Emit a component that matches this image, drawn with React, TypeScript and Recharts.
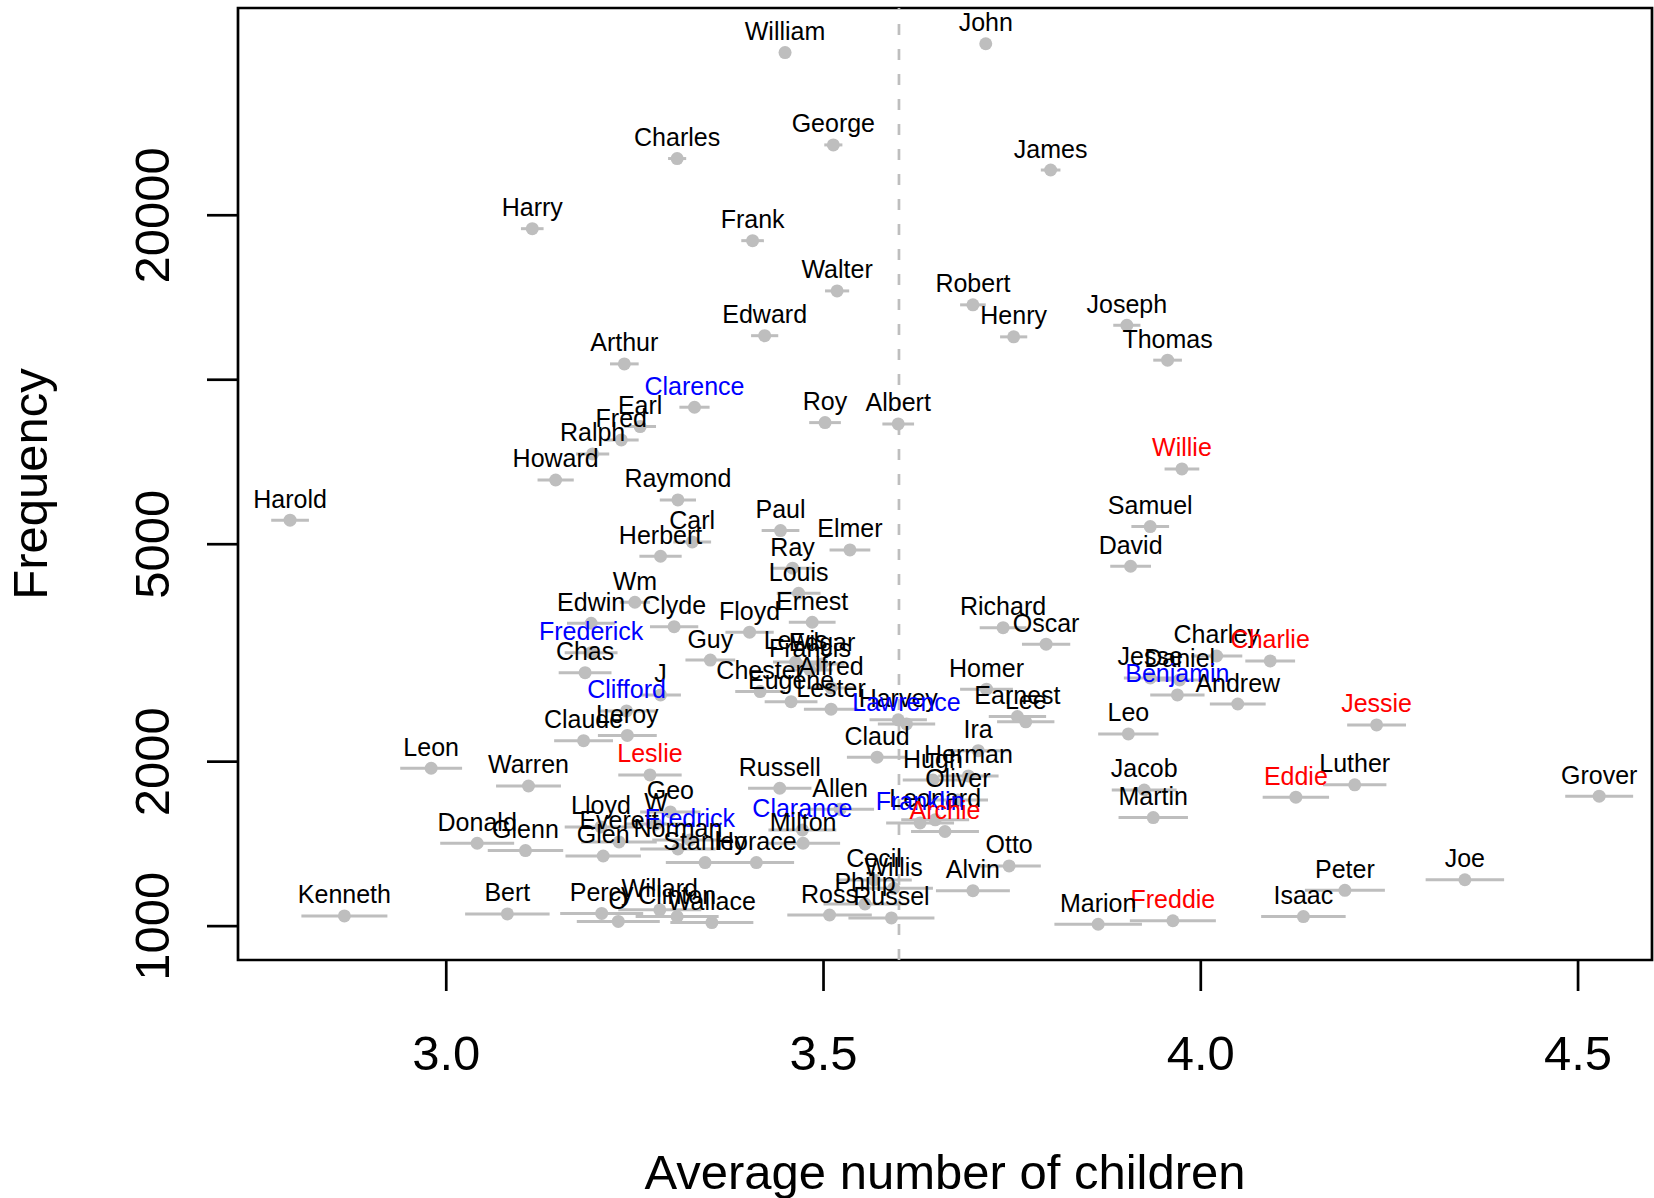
import React from "react";
import {
  ErrorBar,
  ReferenceArea,
  ReferenceLine,
  Scatter,
  ScatterChart,
  XAxis,
  YAxis,
} from "recharts";

// first names
const names = [
  "William", "John", "Charles", "George", "James", "Harry", "Frank", "Walter", "Robert", "Henry",
  "Edward", "Joseph", "Thomas", "Arthur", "Clarence", "Earl", "Fred", "Ralph", "Howard", "Roy",
  "Albert", "Willie", "Harold", "Raymond", "Samuel", "Paul", "Carl", "Elmer", "Herbert", "David",
  "Ray", "Louis", "Wm", "Ernest", "Edwin", "Clyde", "Richard", "Floyd", "Oscar", "Frederick",
  "Charley", "Guy", "Charlie", "Lewis", "Edgar", "Francis", "Chas", "Jesse", "Daniel", "Alfred",
  "Homer", "Chester", "J", "Benjamin", "Eugene", "Andrew", "Lester", "Clifford", "Earnest", "Harvey",
  "Lee", "Lawrence", "Jessie", "Leo", "Leroy", "Claude", "Ira", "Claud", "Leon", "Leslie",
  "Herman", "Hugh", "Luther", "Warren", "Russell", "Jacob", "Grover", "Eddie", "Oliver", "Allen",
  "Geo", "Martin", "Leonard", "Franklin", "W", "Lloyd", "Clarance", "Archie", "Everett", "Fredrick",
  "Donald", "Milton", "Norman", "Glenn", "Glen", "Stanley", "Horace", "Otto", "Joe", "Cecil",
  "Willis", "Peter", "Alvin", "Philip", "Willard", "Percy", "Bert", "Ross", "Kenneth", "Isaac",
  "Clinton", "Russel", "Freddie", "O", "Wallace", "Marion",
];

// average number of children per name
const avgChildren = [
  3.449, 3.715, 3.306, 3.513, 3.801, 3.114, 3.406, 3.518, 3.698, 3.752,
  3.422, 3.902, 3.956, 3.236, 3.329, 3.257, 3.232, 3.194, 3.145, 3.502,
  3.599, 3.975, 2.793, 3.307, 3.933, 3.443, 3.326, 3.535, 3.284, 3.907,
  3.459, 3.467, 3.25, 3.485, 3.192, 3.302, 3.738, 3.402, 3.795, 3.192,
  4.021, 3.35, 4.092, 3.463, 3.498, 3.482, 3.184, 3.933, 3.972, 3.51,
  3.716, 3.416, 3.284, 3.969, 3.457, 4.049, 3.51, 3.239, 3.757, 3.599,
  3.768, 3.61, 4.233, 3.904, 3.24, 3.182, 3.705, 3.571, 2.98, 3.27,
  3.692, 3.645, 4.204, 3.109, 3.442, 3.925, 4.528, 4.126, 3.678, 3.522,
  3.297, 3.937, 3.648, 3.628, 3.278, 3.205, 3.472, 3.661, 3.229, 3.323,
  3.041, 3.473, 3.307, 3.105, 3.208, 3.343, 3.411, 3.746, 4.35, 3.567,
  3.593, 4.191, 3.698, 3.555, 3.283, 3.206, 3.081, 3.508, 2.865, 4.136,
  3.306, 3.59, 3.963, 3.228, 3.352, 3.864,
];

// how often the name occurs
const frequency = [
  39700, 41200, 25400, 26900, 24200, 18900, 17970, 14540, 13710, 11980,
  12040, 12580, 10860, 10690, 8906, 8208, 7760, 7314, 6554, 8347,
  8301, 6867, 5533, 6026, 5385, 5295, 5048, 4882, 4753, 4557,
  4519, 4067, 3915, 3599, 3584, 3533, 3518, 3451, 3281, 3166,
  3122, 3069, 3057, 3044, 3019, 2944, 2910, 2846, 2822, 2729,
  2714, 2687, 2649, 2649, 2575, 2550, 2495, 2477, 2418, 2385,
  2365, 2345, 2335, 2248, 2234, 2185, 2095, 2038, 1945, 1891,
  1883, 1851, 1814, 1805, 1788, 1775, 1729, 1722, 1702, 1637,
  1618, 1580, 1565, 1545, 1538, 1519, 1500, 1490, 1426, 1438,
  1418, 1418, 1384, 1375, 1344, 1307, 1307, 1289, 1216, 1215,
  1173, 1163, 1161, 1098, 1071, 1055, 1053, 1048, 1044, 1041,
  1041, 1035, 1023, 1020, 1015, 1008,
];

// half width of the interval around each average
const spread = [
  0.008, 0.006, 0.012, 0.012, 0.013, 0.015, 0.015, 0.016, 0.017, 0.018,
  0.018, 0.018, 0.019, 0.019, 0.02, 0.021, 0.023, 0.022, 0.024, 0.021,
  0.021, 0.023, 0.025, 0.024, 0.025, 0.025, 0.025, 0.027, 0.028, 0.027,
  0.029, 0.029, 0.02, 0.031, 0.032, 0.032, 0.031, 0.032, 0.032, 0.035,
  0.034, 0.033, 0.033, 0.03, 0.03, 0.03, 0.035, 0.035, 0.035, 0.032,
  0.035, 0.033, 0.027, 0.036, 0.035, 0.037, 0.036, 0.038, 0.038, 0.038,
  0.038, 0.038, 0.039, 0.04, 0.039, 0.039, 0.04, 0.04, 0.041, 0.042,
  0.04, 0.04, 0.042, 0.043, 0.042, 0.043, 0.045, 0.044, 0.04, 0.045,
  0.04, 0.046, 0.045, 0.045, 0.04, 0.048, 0.045, 0.045, 0.05, 0.05,
  0.049, 0.049, 0.05, 0.05, 0.05, 0.052, 0.05, 0.042, 0.052, 0.05,
  0.052, 0.053, 0.049, 0.055, 0.055, 0.055, 0.056, 0.056, 0.057, 0.056,
  0.055, 0.057, 0.057, 0.055, 0.055, 0.058,
];

const blueNames = ["Clarence", "Frederick", "Clifford", "Benjamin", "Lawrence", "Clarance", "Fredrick", "Franklin"];
const redNames = ["Willie", "Charlie", "Jessie", "Leslie", "Eddie", "Archie", "Freddie"];

const xTicks = [3, 3.5, 4, 4.5];
const yTicks = [1000, 2000, 5000, 10000, 20000];
const yLabelled = [1000, 2000, 5000, 20000];
const overallMean = 3.6;
const xDomain = [2.724, 4.598];
const yDomain = [867, 47900];

const FONT = '"Liberation Sans", Arial, Helvetica, sans-serif';
const GREY = "#bebebe";

const points = names.map((name, i) => ({
  name,
  x: avgChildren[i],
  y: frequency[i],
  err: spread[i],
  color: blueNames.includes(name) ? "#0000ff" : redNames.includes(name) ? "#ff0000" : "#000000",
}));

const NamedDot = (props: any) => {
  const { cx, cy, payload } = props;
  if (cx == null || cy == null) return null;
  return (
    <g>
      <circle cx={cx} cy={cy} r={6.5} fill={GREY} />
      <text x={cx} y={cy - 12.5} textAnchor="middle" fontSize={25} fontFamily={FONT} fill={payload.color}>
        {payload.name}
      </text>
    </g>
  );
};

const XTick = (props: any) => {
  const { x, y, payload } = props;
  return (
    <text x={x} y={y + 79} textAnchor="middle" fontSize={49} fontFamily={FONT} fill="#000">
      {Number(payload.value).toFixed(1)}
    </text>
  );
};

const YTick = (props: any) => {
  const { x, y, payload } = props;
  if (!yLabelled.includes(payload.value)) return null;
  const bx = x - 38;
  return (
    <text
      x={bx}
      y={y}
      transform={`rotate(-90, ${bx}, ${y})`}
      textAnchor="middle"
      fontSize={49}
      fontFamily={FONT}
      fill="#000"
    >
      {payload.value}
    </text>
  );
};

export default function App() {
  return (
    <div style={{ position: "absolute", left: 0, top: 0, width: 1654, height: 1198, background: "#fff" }}>
      <ScatterChart width={1654} height={1198} margin={{ top: 8, right: 2, left: 0, bottom: 0 }}>
        <XAxis
          type="number"
          dataKey="x"
          domain={xDomain}
          ticks={xTicks}
          allowDataOverflow
          height={238}
          tickSize={31}
          tickMargin={0}
          axisLine={false}
          tickLine={{ stroke: "#000", strokeWidth: 2.7 }}
          tick={<XTick />}
          label={{
            content: (p: any) => (
              <text
                x={p.viewBox.x + p.viewBox.width / 2}
                y={p.viewBox.y + 229}
                textAnchor="middle"
                fontSize={49}
                fontFamily={FONT}
                fill="#000"
              >
                Average number of children
              </text>
            ),
          }}
        />
        <YAxis
          type="number"
          dataKey="y"
          scale="log"
          domain={yDomain}
          ticks={yTicks}
          allowDataOverflow
          width={238}
          tickSize={31}
          tickMargin={0}
          axisLine={false}
          tickLine={{ stroke: "#000", strokeWidth: 2.7 }}
          tick={<YTick />}
          label={{
            content: (p: any) => {
              const bx = p.viewBox.x + 47;
              const cy = p.viewBox.y + p.viewBox.height / 2;
              return (
                <text
                  x={bx}
                  y={cy}
                  transform={`rotate(-90, ${bx}, ${cy})`}
                  textAnchor="middle"
                  fontSize={49}
                  fontFamily={FONT}
                  fill="#000"
                >
                  Frequency
                </text>
              );
            },
          }}
        />
        <ReferenceLine x={overallMean} stroke={GREY} strokeWidth={2.7} strokeDasharray="11 14" />
        <Scatter data={points} shape={<NamedDot />} isAnimationActive={false}>
          <ErrorBar dataKey="err" direction="x" width={0} stroke={GREY} strokeWidth={3} isAnimationActive={false} />
        </Scatter>
        <ReferenceArea
          x1={xDomain[0]}
          x2={xDomain[1]}
          y1={yDomain[0]}
          y2={yDomain[1]}
          fill="none"
          stroke="#000"
          strokeWidth={2.7}
          ifOverflow="visible"
        />
      </ScatterChart>
    </div>
  );
}
